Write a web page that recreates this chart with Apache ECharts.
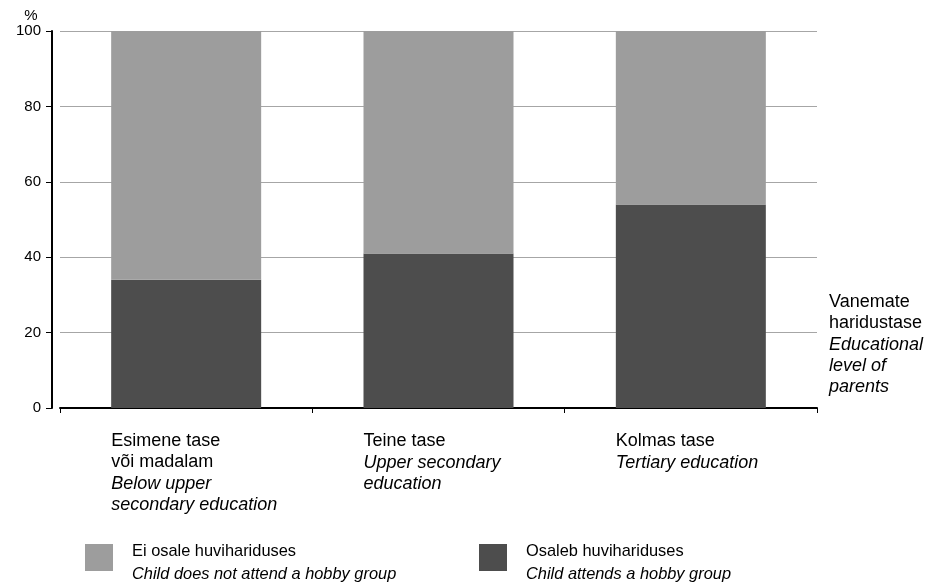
<!DOCTYPE html>
<html>
<head>
<meta charset="utf-8">
<script src="https://cdn.jsdelivr.net/npm/echarts@6/dist/echarts.min.js"></script>
<style>html,body{margin:0;padding:0;background:#fff}#c{width:931px;height:587px}</style>
</head>
<body>
<div id="c"></div>
<script>
var categoriesEt = ['Esimene tase\nvõi madalam', 'Teine tase', 'Kolmas tase'];
var categoriesEn = ['Below upper\nsecondary education', 'Upper secondary\neducation', 'Tertiary education'];
var attends = [34, 41, 54];
var notAttends = [66, 59, 46];
var yTicks = [0, 20, 40, 60, 80, 100];
var seriesNames = ['Osaleb huvihariduses', 'Ei osale huvihariduses'];
var seriesNamesEn = ['Child attends a hobby group', 'Child does not attend a hobby group'];

var FONT = '"Liberation Sans", Arial, sans-serif';
var FS = 18;
var LFS = 16.4;
var colors = ['#4d4d4d', '#9d9d9d'];

function catLabel(i) {
  var out = [];
  categoriesEt[i].split('\n').forEach(function (l) { out.push('{n|' + l + '}'); });
  categoriesEn[i].split('\n').forEach(function (l) { out.push('{i|' + l + '}'); });
  return out.join('\n');
}
var chart = echarts.init(document.getElementById('c'), null, { renderer: 'canvas' });
function legendFor(idx, left) {
  return {
    left: left, top: 538, orient: 'horizontal',
    itemWidth: 28, itemHeight: 27, itemGap: 20,
    icon: 'rect', selectedMode: false,
    data: [seriesNames[idx]],
    formatter: function (name) { return '{n|' + name + '}\n{i|' + seriesNamesEn[seriesNames.indexOf(name)] + '}'; },
    textStyle: {
      fontFamily: FONT, fontSize: LFS, color: '#000', padding: [10, 0, 0, 14],
      rich: {
        n: { fontFamily: FONT, fontSize: LFS, color: '#000', lineHeight: 23 },
        i: { fontFamily: FONT, fontSize: LFS, color: '#000', lineHeight: 23, fontStyle: 'italic' }
      }
    }
  };
}
chart.setOption({
  animation: false,
  backgroundColor: '#fff',
  grid: { left: 60, right: 114, top: 31, bottom: 179 },
  legend: [legendFor(1, 80), legendFor(0, 474)],
  xAxis: {
    type: 'category',
    data: [0, 1, 2],
    offset: 11,
    axisLine: { lineStyle: { color: '#000', width: 2 } },
    axisTick: { show: true, length: 5, lineStyle: { color: '#000', width: 1 } },
    axisLabel: {
      margin: 12,
      width: 150,
      overflow: 'none',
      align: 'center',
      verticalAlign: 'top',
      formatter: function (v, i) { return catLabel(i); },
      rich: {
        n: { fontFamily: FONT, fontSize: FS, color: '#000', lineHeight: 21, align: 'left' },
        i: { fontFamily: FONT, fontSize: FS, color: '#000', lineHeight: 21, align: 'left', fontStyle: 'italic' }
      }
    },
    name: '{n|Vanemate}\n{n|haridustase}\n{i|Educational}\n{i|level of}\n{i|parents}',
    nameLocation: 'end',
    nameGap: 12,
    nameTextStyle: {
      align: 'left', verticalAlign: 'bottom', padding: [0, 0, 11, 0],
      rich: {
        n: { fontFamily: FONT, fontSize: FS, color: '#000', lineHeight: 21 },
        i: { fontFamily: FONT, fontSize: FS, color: '#000', lineHeight: 21, fontStyle: 'italic' }
      }
    }
  },
  yAxis: {
    type: 'value',
    min: yTicks[0], max: yTicks[yTicks.length - 1], interval: 20,
    offset: 8,
    axisLine: { show: true, lineStyle: { color: '#000', width: 2 } },
    axisTick: { show: true, length: 6, lineStyle: { color: '#000', width: 1 } },
    axisLabel: { margin: 11, fontFamily: FONT, fontSize: 15, color: '#000' },
    splitLine: { show: true, lineStyle: { color: '#a6a6a6', width: 1 } },
    name: '%',
    nameLocation: 'end',
    nameGap: 8,
    nameTextStyle: { fontFamily: FONT, fontSize: 15, color: '#000', align: 'center', padding: [0, 42, 0, 0] }
  },
  series: [
    { name: seriesNames[0], type: 'bar', stack: 's', data: attends, barWidth: 150, itemStyle: { color: colors[0] } },
    { name: seriesNames[1], type: 'bar', stack: 's', data: notAttends, barWidth: 150, itemStyle: { color: colors[1] } }
  ]
});
</script>
</body>
</html>
